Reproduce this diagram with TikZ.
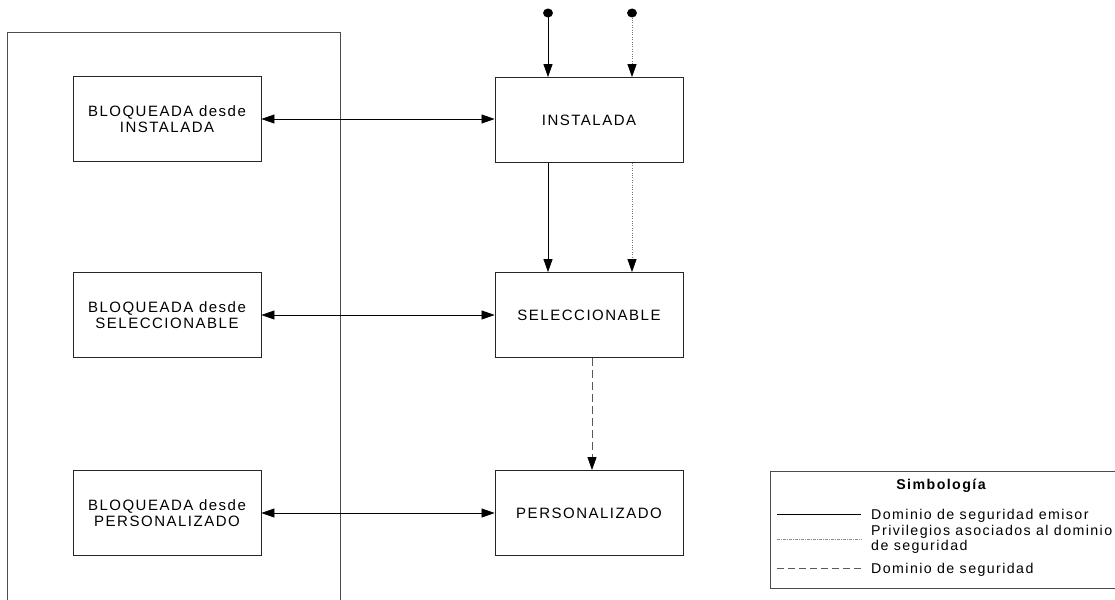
\documentclass[tikz,border=0pt]{standalone}
\usepackage{fontspec}
\setmainfont{Liberation Sans}[LetterSpace=10]
\usetikzlibrary{arrows.meta}
\begin{document}
\begin{tikzpicture}[x=1pt,y=-1pt,
  every node/.style={font=\fontsize{15}{15.5}\selectfont},
  state/.style={draw=black!85,line width=0.8pt,minimum width=188pt,minimum height=85pt,align=center,inner sep=0pt},
  legtext/.style={anchor=base west,inner sep=0pt,font=\fontsize{14.2}{15}\selectfont},
  tip/.tip={Triangle[length=13pt,width=9pt,black]},
  conn/.style={draw=black,line width=0.7pt},
  dotline/.style={draw=black!55,line width=0.8pt,dash pattern=on 0.8pt off 1.6pt},
  dashline/.style={draw=black!65,line width=0.8pt,dash pattern=on 8pt off 4pt},
  legdot/.style={draw=black!45,line width=0.8pt,dash pattern=on 3pt off 1pt on 1pt off 1pt},
  frame/.style={draw=black!70,line width=0.8pt},
  startdot/.style={fill=black,shape=circle,minimum size=9pt,inner sep=0pt,draw=none,xscale=1.1}
]
\useasboundingbox (0,0) rectangle (1115,599);
% outer frame (open at the bottom)
\draw[frame] (7,600) -- (7,32) -- (340,32) -- (340,600);
% left boxes
\node[state] (b1) at (167,119) {BLOQUEADA desde\\INSTALADA};
\node[state] (b2) at (167,315) {BLOQUEADA desde\\SELECCIONABLE};
\node[state] (b3) at (167,513) {BLOQUEADA desde\\PERSONALIZADO};
% right boxes
\node[state] (inst) at (589,120) {INSTALADA};
\node[state] (sel) at (589,315) {SELECCIONABLE};
\node[state] (pers) at (589,513) {PERSONALIZADO};
% start dots
\node[startdot] (d1) at (548,13) {};
\node[startdot] (d2) at (632,13) {};
% connectors
\draw[conn,-tip] (d1.center) -- (d1 |- inst.north);
\draw[dotline,-tip] (d2.south) -- (d2 |- inst.north);
\draw[conn,-tip] ([xshift=-41pt]inst.south) -- ([xshift=-41pt]sel.north);
\draw[dotline,-tip] ([xshift=43pt]inst.south) -- ([xshift=43pt]sel.north);
\draw[dashline,-tip] ([xshift=3pt]sel.south) -- ([xshift=3pt]pers.north);
\draw[conn,tip-tip] (b1.east) -- (b1.east -| inst.west);
\draw[conn,tip-tip] (b2.east) -- (sel.west);
\draw[conn,tip-tip] (b3.east) -- (pers.west);
% legend
\draw[frame] (1116,471) -- (770,471) -- (770,588) -- (1116,588);
\node[anchor=base,inner sep=0pt,font=\fontsize{14.2}{15}\selectfont\bfseries] (lt) at (941,489) {Simbología};
\coordinate (l1a) at (777,514); \coordinate (l1b) at (861,514);
\coordinate (l2a) at (777,539); \coordinate (l2b) at (862,539);
\coordinate (l3a) at (777,568); \coordinate (l3b) at (863,568);
\draw[conn] (l1a) -- (l1b);
\draw[legdot] (l2a) -- (l2b);
\draw[dashline,line width=0.7pt,dash pattern=on 7pt off 4pt] (l3a) -- (l3b);
\node[legtext] (t1) at (871,519) {Dominio de seguridad emisor};
\node[legtext] (t2a) at (871,535) {Privilegios asociados al dominio};
\node[legtext] (t2b) at (871,550) {de seguridad};
\node[legtext] (t3) at (871,573) {Dominio de seguridad};
\end{tikzpicture}
\end{document}
